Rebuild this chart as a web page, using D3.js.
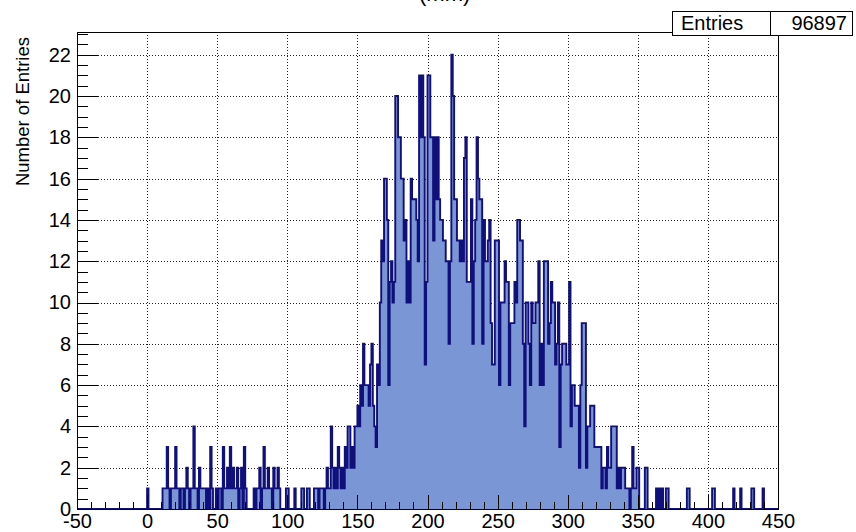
<!DOCTYPE html>
<html>
<head>
<meta charset="utf-8">
<script src="https://cdn.jsdelivr.net/npm/d3@7"></script>
<style>
  html, body { margin: 0; padding: 0; background: #fff; }
  svg { display: block; font-family: "Liberation Sans", Arial, Helvetica, sans-serif; }
</style>
</head>
<body>
<svg id="chart" width="856" height="532"></svg>
<script>
// ---- histogram content ----
const titleText = "(mm)";
const yTitle = "Number of Entries";
const statLabel = "Entries";
const statValue = "96897";

const xDomain = [-50, 450];
const yDomain = [0, 23.1];
const xMajorTicks = [-50, 0, 50, 100, 150, 200, 250, 300, 350, 400, 450];
const yMajorTicks = [0, 2, 4, 6, 8, 10, 12, 14, 16, 18, 20, 22];

// bins of width 1; counts listed from x = 0 upward, everything else is empty
const binWidth = 1;
const firstFilledBin = 0;
const counts = [
  1, 0, 0, 0, 0, 0, 0, 0, 0, 0,        //   0
  0, 1, 1, 1, 3, 1, 0, 1, 1, 1,        //  10
  3, 1, 1, 0, 1, 1, 0, 1, 2, 1,        //  20
  0, 1, 1, 4, 1, 1, 0, 2, 1, 1,        //  30
  1, 1, 0, 1, 0, 3, 1, 0, 0, 1,        //  40
  0, 1, 1, 0, 3, 1, 1, 2, 1, 3,        //  50
  1, 2, 1, 1, 2, 0, 1, 2, 0, 3,        //  60
  1, 0, 0, 0, 0, 0, 1, 0, 1, 1,        //  70
  2, 0, 1, 3, 1, 1, 2, 1, 1, 0,        //  80
  2, 1, 1, 2, 1, 0, 0, 0, 0, 1,        //  90
  1, 0, 0, 0, 0, 1, 0, 0, 0, 0,        // 100
  1, 1, 0, 0, 1, 1, 0, 0, 0, 1,        // 110
  1, 1, 0, 1, 1, 1, 0, 1, 2, 1,        // 120
  1, 4, 2, 1, 2, 1, 3, 2, 1, 2,        // 130
  1, 3, 2, 4, 4, 2, 3, 2, 4, 4,        // 140
  5, 4, 6, 5, 8, 6, 6, 6, 5, 7,        // 150
  8, 5, 4, 3, 7, 6, 10, 13, 12, 16,    // 160
  16, 14, 6, 11, 12, 10, 11, 20, 20, 18, // 170
  18, 16, 16, 13, 14, 10, 12, 10, 16, 15, // 180
  15, 15, 14, 12, 21, 18, 21, 18, 7, 11, // 190
  21, 21, 18, 18, 13, 18, 15, 18, 15, 14, // 200
  14, 13, 13, 12, 12, 8, 12, 22, 20, 15, // 210
  15, 13, 13, 12, 13, 12, 17, 18, 11, 11, // 220
  11, 15, 8, 12, 14, 18, 16, 15, 15, 8,  // 230
  14, 12, 12, 13, 14, 9, 7, 7, 13, 13,   // 240
  13, 6, 10, 10, 10, 12, 11, 11, 6, 9,   // 250
  9, 9, 11, 10, 14, 14, 13, 13, 8, 4,    // 260
  10, 10, 8, 6, 10, 9, 9, 10, 10, 12,    // 270
  6, 8, 6, 12, 12, 12, 8, 9, 11, 10,     // 280
  10, 7, 8, 10, 3, 7, 8, 8, 8, 7,        // 290
  7, 11, 4, 6, 6, 5, 5, 5, 2, 6,         // 300
  9, 9, 9, 2, 4, 4, 5, 5, 5, 3,          // 310
  3, 3, 3, 3, 1, 2, 2, 1, 3, 2,          // 320
  2, 4, 4, 4, 4, 1, 2, 1, 2, 2,          // 330
  2, 1, 1, 1, 0, 1, 3, 1, 1, 2,          // 340
  2, 0, 0, 0, 0, 2, 2, 0, 0, 0,          // 350
  0, 0, 0, 1, 0, 1, 0, 1, 0, 0,          // 360
  1, 1, 0, 0, 0, 0, 0, 0, 0, 0,          // 370
  0, 0, 0, 0, 0, 1, 1, 0, 0, 0,          // 380
  0, 0, 0, 0, 0, 0, 0, 0, 0, 0,          // 390
  0, 0, 0, 1, 1, 0, 0, 0, 0, 0,          // 400
  0, 0, 0, 0, 0, 0, 0, 0, 1, 0,          // 410
  0, 0, 0, 1, 0, 0, 0, 0, 0, 0,          // 420
  0, 1, 1, 0, 0, 0, 0, 0, 0, 1,          // 430
  0, 0, 0, 0, 0, 0, 0, 0, 0, 0           // 440
];

// ---- drawing ----
const frame = { left: 77, right: 778, top: 32, bottom: 509 };
const fillColor = "#7b96d4";
const lineColor = "#10107c";

const svg = d3.select("#chart");
const x = d3.scaleLinear().domain(xDomain).range([frame.left, frame.right]);
const y = d3.scaleLinear().domain(yDomain).range([frame.bottom, frame.top]);

// bins across the whole axis range
const bins = d3.range(xDomain[0], xDomain[1], binWidth).map(lo => {
  const idx = Math.round((lo - firstFilledBin) / binWidth);
  return { lo, v: (idx >= 0 && idx < counts.length) ? counts[idx] : 0 };
});
const stepPts = bins.map(b => [b.lo, b.v]);
stepPts.push([xDomain[1], 0]);

// white pad area
svg.append("rect").attr("x", 0).attr("y", 0).attr("width", 856).attr("height", 532).attr("fill", "#fff");

// dotted grid
const grid = svg.append("g").attr("stroke", "#222").attr("stroke-width", 1)
  .attr("stroke-dasharray", "1,2").attr("shape-rendering", "crispEdges");
grid.selectAll("line.gx").data(xMajorTicks.filter(t => t > xDomain[0] && t < xDomain[1]))
  .join("line").attr("class", "gx")
  .attr("x1", d => Math.round(x(d)) + 0.5).attr("x2", d => Math.round(x(d)) + 0.5)
  .attr("y1", frame.top).attr("y2", frame.bottom);
grid.selectAll("line.gy").data(yMajorTicks.filter(t => t > yDomain[0]))
  .join("line").attr("class", "gy")
  .attr("y1", d => Math.round(y(d)) + 0.5).attr("y2", d => Math.round(y(d)) + 0.5)
  .attr("x1", frame.left).attr("x2", frame.right);

// histogram fill and outline
const area = d3.area().curve(d3.curveStepAfter)
  .x(d => x(d[0])).y0(y(0)).y1(d => y(d[1]));
const line = d3.line().curve(d3.curveStepAfter)
  .x(d => x(d[0])).y(d => y(d[1]));
svg.append("path").attr("d", area(stepPts)).attr("fill", fillColor);
svg.append("path").attr("d", line(stepPts)).attr("fill", "none")
  .attr("stroke", lineColor).attr("stroke-width", 1.9);

// axes with ticks pointing into the frame
const xMinor = d3.range(xDomain[0], xDomain[1] + 0.001, 10).filter(v => v % 50 !== 0);
const yMinor = d3.range(0, yDomain[1], 0.5).filter(v => v % 2 !== 0);

const gxMinor = svg.append("g").attr("transform", `translate(0,${frame.bottom})`)
  .call(d3.axisBottom(x).tickValues(xMinor).tickFormat("").tickSizeInner(-7).tickSizeOuter(0));
const gx = svg.append("g").attr("transform", `translate(0,${frame.bottom})`)
  .call(d3.axisBottom(x).tickValues(xMajorTicks).tickFormat(d3.format("d"))
    .tickSizeInner(-14).tickSizeOuter(0).tickPadding(5));
const gyMinor = svg.append("g").attr("transform", `translate(${frame.left},0)`)
  .call(d3.axisLeft(y).tickValues(yMinor).tickFormat("").tickSizeInner(-10.5).tickSizeOuter(0));
const gy = svg.append("g").attr("transform", `translate(${frame.left},0)`)
  .call(d3.axisLeft(y).tickValues(yMajorTicks).tickFormat(d3.format("d"))
    .tickSizeInner(-21).tickSizeOuter(0).tickPadding(6));

[gxMinor, gx, gyMinor, gy].forEach(g => {
  g.select(".domain").remove();
  g.selectAll(".tick line").attr("stroke", "#000").attr("stroke-width", 1)
    .attr("shape-rendering", "crispEdges");
  g.selectAll("text").attr("fill", "#000").attr("font-size", 20)
    .attr("font-family", "\"Liberation Sans\", Arial, sans-serif");
});
gx.selectAll(".tick text").text(d => d3.format("d")(d).replace("\u2212", "-"));

// frame
svg.append("rect").attr("x", frame.left + 0.5).attr("y", frame.top + 0.5)
  .attr("width", frame.right - frame.left).attr("height", frame.bottom - frame.top)
  .attr("fill", "none").attr("stroke", "#000").attr("stroke-width", 1);

// y axis title (aligned to the top end of the axis)
svg.append("text")
  .attr("transform", `translate(29,${frame.top + 5}) rotate(-90)`)
  .attr("text-anchor", "end").attr("font-size", 18.5).attr("fill", "#000")
  .text(yTitle);

// histogram title, mostly above the top edge of the pad
svg.append("text").attr("x", 419).attr("y", 1).attr("font-size", 22)
  .attr("fill", "#000").text(titleText);

// statistics box
const stat = svg.append("g");
stat.append("rect").attr("x", 672.5).attr("y", 11.5).attr("width", 180).attr("height", 24)
  .attr("fill", "#fff").attr("stroke", "#000").attr("stroke-width", 1);
stat.append("line").attr("x1", 770.5).attr("x2", 770.5).attr("y1", 11.5).attr("y2", 35.5)
  .attr("stroke", "#000").attr("stroke-width", 1);
stat.append("text").attr("x", 681).attr("y", 30).attr("font-size", 20).text(statLabel);
stat.append("text").attr("x", 847).attr("y", 30).attr("font-size", 20)
  .attr("text-anchor", "end").text(statValue);
</script>
</body>
</html>
